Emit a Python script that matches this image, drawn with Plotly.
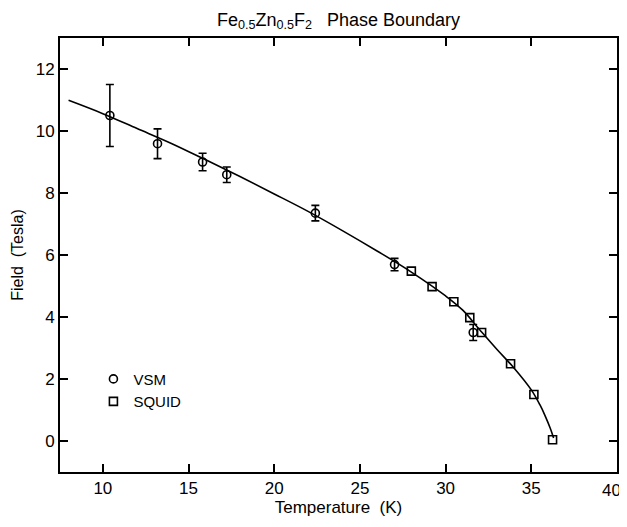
import plotly.graph_objects as go

# VSM data (circles with error bars)
vsm_T = [10.41, 13.19, 15.82, 17.23, 22.4, 27.02, 31.61]
vsm_H = [10.50, 9.59, 9.00, 8.59, 7.35, 5.69, 3.50]
vsm_err = [1.0, 0.48, 0.28, 0.25, 0.25, 0.20, 0.26]

# SQUID data (squares)
squid_T = [28.0, 29.21, 30.48, 31.41, 32.1, 33.79, 35.15, 36.24]
squid_H = [5.48, 4.98, 4.49, 3.98, 3.50, 2.49, 1.50, 0.04]

# Phase boundary curve
curve_T = [8.0, 10.0, 12.0, 14.0, 16.0, 18.0, 20.0, 22.0, 24.0, 26.0, 28.0,
           30.0, 31.0, 32.0, 33.0, 34.0, 35.0, 35.5, 35.8, 36.1, 36.3]
curve_H = [10.99, 10.56, 10.08, 9.60, 9.07, 8.53, 7.97, 7.40, 6.78, 6.13, 5.45,
           4.68, 4.22, 3.58, 2.95, 2.35, 1.65, 1.17, 0.82, 0.42, 0.10]

x_ticks = [10, 15, 20, 25, 30, 35, 40]
x_labels = ["10", "15", "20", "25", "30", "35", "40"]
y_ticks = [0, 2, 4, 6, 8, 10, 12]

FONT = "Liberation Sans, Arial, sans-serif"

fig = go.Figure()
fig.add_trace(go.Scatter(x=curve_T, y=curve_H, mode="lines",
                         line=dict(color="black", width=1.6, shape="spline", smoothing=1.0),
                         showlegend=False, hoverinfo="skip"))
fig.add_trace(go.Scatter(x=vsm_T, y=vsm_H, mode="markers", name="VSM",
                         marker=dict(symbol="circle-open", size=8, color="black", line=dict(width=1.6)),
                         error_y=dict(type="data", array=vsm_err, visible=True, color="black", thickness=1.6, width=4)))
fig.add_trace(go.Scatter(x=squid_T, y=squid_H, mode="markers", name="SQUID",
                         marker=dict(symbol="square-open", size=8, color="black", line=dict(width=1.6))))

# last tick label drawn as an annotation so it stays inside the visible page
shown_labels = x_labels[:-1] + [""]
fig.add_annotation(x=x_ticks[-1], y=0, xref="x", yref="paper", text=x_labels[-1],
                   showarrow=False, xanchor="center", yanchor="top", xshift=-6, yshift=-7,
                   font=dict(size=17, color="black"))

fig.update_layout(
    width=619, height=511,
    margin=dict(l=52, r=10, t=30, b=47, autoexpand=False),
    paper_bgcolor="white", plot_bgcolor="white",
    font=dict(family=FONT, size=17, color="black"),
    title=dict(text="Fe<sub>0.5</sub>Zn<sub>0.5</sub>F<sub>2</sub>   Phase Boundary",
               x=0.5, xref="paper", xanchor="center", y=0.99, yref="container", yanchor="top",
               pad=dict(t=0, b=0), font=dict(size=18)),
    legend=dict(x=0.06, y=0.252, xanchor="left", yanchor="top", bgcolor="rgba(0,0,0,0)",
                font=dict(size=15), itemwidth=30, tracegroupgap=0),
    xaxis=dict(range=[7.5, 40], tickvals=x_ticks, ticktext=shown_labels, ticks="inside", ticklen=8,
               tickwidth=1.6, tickcolor="black",
               showline=True, linecolor="black", linewidth=2, mirror="ticks", showgrid=False, zeroline=False,
               automargin=False,
               title=dict(text="Temperature  (K)", font=dict(size=17), standoff=2)),
    yaxis=dict(range=[-1, 13], tickvals=y_ticks, ticks="inside", ticklen=8, tickwidth=1.6, tickcolor="black",
               showline=True, linecolor="black", linewidth=2, mirror="ticks", showgrid=False, zeroline=False,
               automargin=False,
               title=dict(text="Field  (Tesla)", font=dict(size=16), standoff=8)),
)

fig.write_html("out.html")
